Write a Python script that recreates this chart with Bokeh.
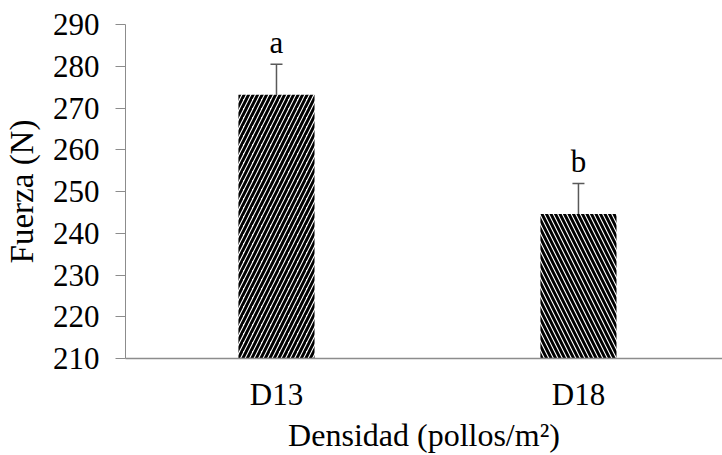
from bokeh.plotting import figure
from bokeh.models import Range1d, FixedTicker, Whisker, TeeHead, ColumnDataSource, Title
from bokeh.core.properties import value
from bokeh.embed import file_html
from bokeh.resources import INLINE

categories = ["D13", "D18"]
means = [273.2, 244.6]
errors = [7.3, 7.3]
letters = ["a", "b"]
hatches = ["/", "\\"]
y_ticks = [210, 220, 230, 240, 250, 260, 270, 280, 290]
x_title = "Densidad (pollos/m²)"
y_title = "Fuerza (N)"

Y0, Y1 = 210, 290
FRAME_H = 334
px = FRAME_H / (Y1 - Y0)          # pixels per data unit

xs = list(range(1, len(categories) + 1))
upper = [m + e for m, e in zip(means, errors)]
lower = [m - e for m, e in zip(means, errors)]
letter_y = [u + 22 / px for u in upper]

src = ColumnDataSource(dict(x=xs, top=means, upper=upper, lower=lower,
                            letter=letters, ly=letter_y, hatch=hatches))

FONT = "Liberation Serif"
YFONT = "'Liberation Serif'"
FS = "31px"
TS = "32px"
YTS = "33px"

p = figure(width=722, height=455, output_backend="svg", toolbar_location=None,
           x_range=Range1d(0.5, 2.477), y_range=Range1d(Y0, Y1),
           min_border_left=125, min_border_right=0, min_border_top=24,
           min_border_bottom=455 - 24 - FRAME_H)
p.outline_line_color = None
p.grid.visible = False
p.background_fill_color = "white"
p.border_fill_color = "white"

p.vbar(x="x", top="top", bottom=Y0, width=0.252, source=src,
       fill_color="white", line_color=None,
       hatch_pattern="hatch", hatch_color="black", hatch_scale=9, hatch_weight=2.9)

w = Whisker(base="x", upper="upper", lower="lower", source=src,
            line_color="#595959", line_width=1.5,
            upper_head=TeeHead(size=12, line_color="#595959", line_width=1.5),
            lower_head=None)
p.add_layout(w)

p.text(x="x", y="ly", text="letter", source=src,
       text_align="center", text_baseline="alphabetic",
       text_font=value(FONT), text_font_size=FS, text_color="black")

# axes
p.yaxis.ticker = FixedTicker(ticks=y_ticks)
p.yaxis.major_tick_out = 10
p.yaxis.major_tick_in = 0
p.yaxis.minor_tick_line_color = None
p.yaxis.axis_line_color = "#8c8c8c"
p.yaxis.major_tick_line_color = "#8c8c8c"
p.yaxis.major_label_text_font = FONT
p.yaxis.major_label_text_font_size = FS
p.yaxis.major_label_text_color = "black"
p.yaxis.major_label_standoff = 16
p.yaxis.axis_label = y_title
p.yaxis.axis_label_text_font = YFONT
p.yaxis.axis_label_text_font_size = YTS
p.yaxis.axis_label_text_font_style = "normal"
p.yaxis.axis_label_text_color = "black"
p.yaxis.axis_label_standoff = 10

p.xaxis.ticker = FixedTicker(ticks=xs)
p.xaxis.major_label_overrides = {x: c for x, c in zip(xs, categories)}
p.xaxis.major_tick_out = 0
p.xaxis.major_tick_in = 0
p.xaxis.minor_tick_line_color = None
p.xaxis.axis_line_color = "#8c8c8c"
p.xaxis.axis_line_width = 1.5
p.xaxis.major_label_text_font = FONT
p.xaxis.major_label_text_font_size = FS
p.xaxis.major_label_text_color = "black"
p.xaxis.major_label_standoff = 18

p.add_layout(Title(text=x_title, align="center", text_font=FONT,
                   text_font_size=TS, text_font_style="normal",
                   text_color="black", standoff=0, offset=0), "below")

open("out.html", "w").write(file_html(p, INLINE))
